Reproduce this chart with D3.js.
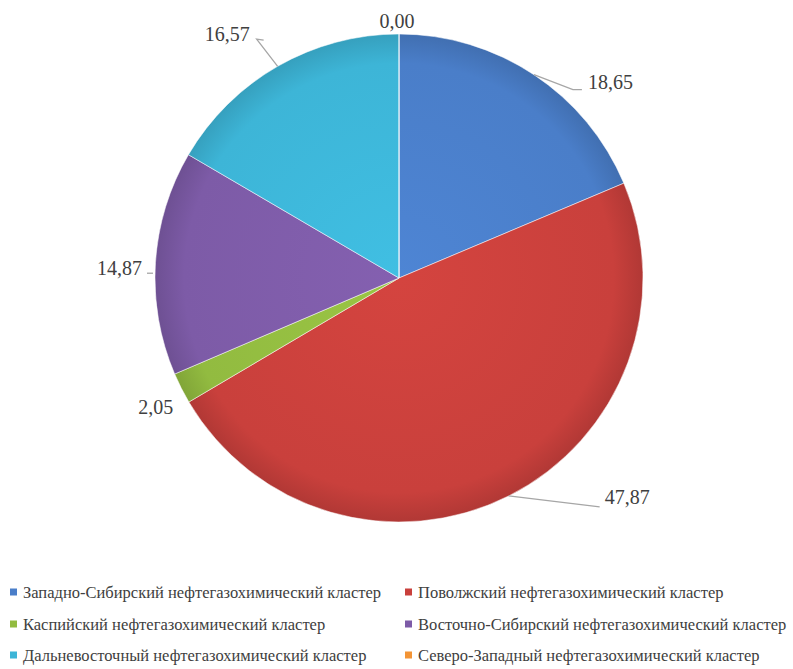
<!DOCTYPE html>
<html>
<head>
<meta charset="utf-8">
<script src="https://cdn.jsdelivr.net/npm/d3@7"></script>
<style>
  body { margin: 0; background: #fff; }
</style>
</head>
<body>
<div class="container"></div>
<script>
var width = 793, height = 669;
var fontFamily = "'Liberation Serif', 'DejaVu Serif', serif";

// data
var categories = [
  "Западно-Сибирский нефтегазохимический кластер",
  "Поволжский нефтегазохимический кластер",
  "Каспийский нефтегазохимический кластер",
  "Восточно-Сибирский нефтегазохимический кластер",
  "Дальневосточный нефтегазохимический кластер",
  "Северо-Западный нефтегазохимический кластер"
];
var values = [18.65, 47.87, 2.05, 14.87, 16.57, 0.00];
var valueLabels = ["18,65", "47,87", "2,05", "14,87", "16,57", "0,00"];
var colors = ["#4a7ec9", "#c9403c", "#92bb40", "#7d5ba7", "#3db5d7", "#f39435"];

// label layout: label offset from the slice edge point, leader points relative to the label
var labelLayout = [
  {dx: 54, dy: 7, anchor: "start", lead: [[-15, 8], [-6, 8]]},
  {dx: 96, dy: 1.5, anchor: "start", lead: [[-5, 9.5]]},
  {dx: -8, dy: 19, anchor: "end", lead: null},
  {dx: -13.5, dy: 5, anchor: "end", lead: [[5, 5.5], [11, 5.5]], noEdge: true},
  {dx: -28, dy: -32.6, anchor: "end", lead: [[7, 5.5], [14, 6.5]]},
  {dx: -2, dy: -13, anchor: "middle", lead: null}
];

var cx = 399, cy = 278, radius = 244;

var svg = d3.select("div.container").append("svg")
    .attr("width", width)
    .attr("height", height)
    .attr("font-family", fontFamily);

var defs = svg.append("defs");
colors.forEach(function(c, i) {
  var g = defs.append("radialGradient")
      .attr("id", "grad" + i)
      .attr("gradientUnits", "userSpaceOnUse")
      .attr("cx", 0).attr("cy", 0).attr("r", radius);
  g.append("stop").attr("offset", "0%").attr("stop-color", d3.color(c).brighter(0.15));
  g.append("stop").attr("offset", "88%").attr("stop-color", c);
  g.append("stop").attr("offset", "100%").attr("stop-color", d3.color(c).darker(0.35));
});

var pie = d3.pie().sort(null).value(function(d) { return d; });
var arcs = pie(values);

var arc = d3.arc().innerRadius(0).outerRadius(radius);

var g = svg.append("g").attr("transform", "translate(" + cx + "," + cy + ")");

g.selectAll("path.slice")
  .data(arcs)
  .enter().append("path")
    .attr("class", "slice")
    .attr("d", arc)
    .attr("fill", function(d, i) { return "url(#grad" + i + ")"; })
    .attr("stroke", "rgba(255,255,255,0.5)")
    .attr("stroke-width", 1);

// labels
arcs.forEach(function(d, i) {
  var mid = (d.startAngle + d.endAngle) / 2;
  var ex = radius * Math.sin(mid), ey = -radius * Math.cos(mid);
  var lay = labelLayout[i];
  var lx = ex + lay.dx, ly = ey + lay.dy;
  if (lay.lead) {
    var pts = lay.lead.map(function(p) { return [lx + p[0], ly + p[1]]; });
    if (!lay.noEdge) pts.unshift([ex, ey]);
    g.append("path")
      .attr("d", d3.line()(pts))
      .attr("fill", "none")
      .attr("stroke", "#a6a6a6")
      .attr("stroke-width", 1.3);
  }
  g.append("text")
    .attr("x", lx)
    .attr("y", ly)
    .attr("dy", "0.35em")
    .attr("text-anchor", lay.anchor)
    .attr("fill", "#404040")
    .attr("font-size", 20)
    .text(valueLabels[i]);
});

// legend
var legend = svg.append("g");
var colX = [10, 405], rowY = [592, 624, 655];
categories.forEach(function(c, i) {
  var x = colX[i % 2], y = rowY[Math.floor(i / 2)];
  legend.append("rect")
    .attr("x", x).attr("y", y - 3.5)
    .attr("width", 7).attr("height", 7)
    .attr("fill", colors[i]);
  legend.append("text")
    .attr("x", x + 13).attr("y", y)
    .attr("dy", "0.35em")
    .attr("fill", "#404040")
    .attr("font-size", 16.5)
    .text(c);
});
</script>
</body>
</html>
